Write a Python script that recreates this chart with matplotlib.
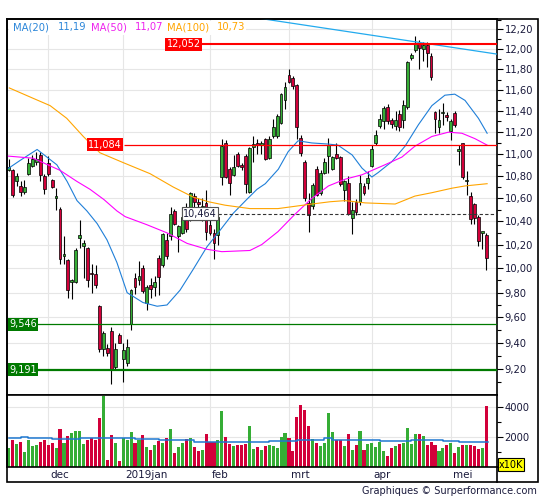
import matplotlib
matplotlib.use('Agg')
import matplotlib.pyplot as plt
import matplotlib.transforms as mtransforms
from matplotlib.ticker import FixedLocator, FuncFormatter, NullFormatter
from matplotlib.patches import Rectangle
from matplotlib.lines import Line2D

plt.rcParams['font.family'] = ['DejaVu Sans']

# daily candles, Nov 19 2018 .. May 15 2019 (trading days)
opens = [10.85, 10.85, 10.75, 10.71, 10.66, 10.82, 10.89, 10.93, 10.99, 10.80,
         10.92, 10.76, 10.60, 10.51, 10.10, 10.07, 9.89, 9.89, 10.26, 10.19,
         10.17, 9.96, 9.95, 9.69, 9.35, 9.36, 9.49, 9.21, 9.46, 9.27,
         9.24, 9.55, 9.92, 9.90, 10.00, 9.72, 9.86, 9.85, 10.09, 10.03,
         10.24, 10.27, 10.49, 10.27, 10.30, 10.43, 10.44, 10.62, 10.57, 10.44,
         10.56, 10.37, 10.30, 10.28, 10.79, 11.10, 10.86, 10.81, 11.00, 10.90,
         10.98, 10.66, 11.06, 11.10, 11.08, 11.14, 10.96, 11.16, 11.16, 11.29,
         11.50, 11.75, 11.72, 11.65, 11.15, 10.93, 10.56, 10.53, 10.86, 10.65,
         10.83, 10.98, 10.86, 11.00, 10.97, 10.67, 10.74, 10.43, 10.57, 10.57,
         10.71, 10.74, 10.89, 11.10, 11.26, 11.30, 11.44, 11.31, 11.26, 11.37,
         11.31, 11.44, 11.91, 11.99, 12.05, 12.00, 12.04, 11.93, 11.39, 11.25,
         11.38, 11.36, 11.21, 11.38, 11.03, 11.10, 10.75, 10.62, 10.55, 10.44,
         10.30, 10.28]
highs = [10.95, 10.86, 10.83, 10.75, 10.76, 10.96, 10.99, 11.02, 11.02, 10.82,
         10.98, 10.77, 10.69, 10.52, 10.27, 10.08, 9.91, 10.17, 10.41, 10.24,
         10.18, 10.04, 10.03, 9.70, 9.49, 9.39, 9.52, 9.40, 9.48, 9.40,
         9.43, 9.83, 9.96, 10.06, 10.03, 9.86, 9.92, 9.94, 10.11, 10.30,
         10.30, 10.52, 10.51, 10.37, 10.52, 10.56, 10.66, 10.65, 10.60, 10.60,
         10.67, 10.42, 10.33, 10.46, 11.14, 11.13, 10.88, 10.99, 11.02, 10.92,
         11.00, 11.06, 11.16, 11.14, 11.12, 11.15, 11.16, 11.32, 11.37, 11.57,
         11.68, 11.80, 11.74, 11.66, 11.17, 10.94, 10.65, 10.74, 10.89, 10.85,
         10.96, 11.15, 10.98, 11.10, 10.98, 10.76, 10.80, 10.57, 10.59, 10.81,
         10.74, 10.84, 11.08, 11.22, 11.37, 11.45, 11.47, 11.33, 11.40, 11.41,
         11.50, 11.88, 11.96, 12.13, 12.09, 12.07, 12.07, 11.96, 11.40, 11.42,
         11.48, 11.39, 11.32, 11.40, 11.08, 11.10, 10.84, 10.66, 10.56, 10.45,
         10.31, 10.30]
lows = [10.84, 10.61, 10.71, 10.62, 10.64, 10.81, 10.88, 10.90, 10.75, 10.64,
        10.80, 10.69, 10.50, 10.04, 10.04, 9.76, 9.75, 9.88, 10.17, 9.92,
        9.85, 9.80, 9.84, 9.33, 9.30, 9.30, 9.08, 9.19, 9.40, 9.10,
        9.22, 9.50, 9.79, 9.86, 9.80, 9.66, 9.76, 9.77, 9.78, 10.01,
        10.08, 10.24, 10.37, 10.14, 10.29, 10.31, 10.40, 10.52, 10.50, 10.40,
        10.24, 10.28, 10.08, 10.20, 10.72, 10.78, 10.63, 10.80, 10.88, 10.85,
        10.65, 10.65, 10.93, 11.00, 11.00, 10.94, 10.95, 11.15, 11.15, 11.28,
        11.42, 11.67, 11.61, 11.14, 10.98, 10.58, 10.31, 10.51, 10.62, 10.63,
        10.82, 10.83, 10.85, 10.95, 10.71, 10.58, 10.45, 10.29, 10.45, 10.54,
        10.63, 10.68, 10.88, 11.08, 11.24, 11.23, 11.28, 11.24, 11.22, 11.21,
        11.24, 11.42, 11.89, 11.97, 11.80, 11.88, 11.82, 11.70, 11.19, 11.19,
        11.27, 11.30, 11.13, 11.25, 10.90, 10.77, 10.63, 10.38, 10.38, 10.19,
        10.16, 9.99]
closes = [10.88, 10.63, 10.80, 10.66, 10.70, 10.92, 10.95, 10.95, 10.81, 10.68,
          10.82, 10.70, 10.62, 10.08, 10.12, 9.82, 9.90, 10.15, 10.28, 10.21,
          9.90, 9.95, 9.86, 9.35, 9.48, 9.32, 9.19, 9.35, 9.40, 9.34,
          9.37, 9.82, 9.85, 9.94, 9.81, 9.85, 9.83, 9.89, 9.93, 10.29,
          10.10, 10.46, 10.38, 10.36, 10.44, 10.33, 10.65, 10.57, 10.55, 10.53,
          10.31, 10.30, 10.21, 10.44, 11.07, 10.79, 10.74, 10.88, 10.89, 10.88,
          10.73, 11.05, 11.09, 11.08, 11.10, 10.95, 11.14, 11.25, 11.35, 11.56,
          11.63, 11.68, 11.64, 11.25, 11.01, 10.60, 10.45, 10.72, 10.63, 10.83,
          10.93, 11.08, 10.97, 10.96, 10.73, 10.75, 10.46, 10.50, 10.48, 10.74,
          10.65, 10.78, 11.04, 11.17, 11.32, 11.43, 11.30, 11.28, 11.31, 11.25,
          11.46, 11.87, 11.94, 12.06, 12.01, 12.04, 11.96, 11.73, 11.32, 11.31,
          11.38, 11.34, 11.30, 11.27, 11.04, 10.79, 10.76, 10.42, 10.43, 10.23,
          10.31, 10.09]
volumes = [1294, 1802, 1518, 1650, 1030, 1802, 1406, 1472, 1650, 1802,
           1472, 1626, 1294, 2528, 1604, 2066, 2244, 2396, 2396, 1538,
           1802, 1954, 1802, 3274, 4726, 482, 2132, 1582, 416, 1914,
           1802, 2330, 1604, 1802, 2132, 1340, 1142, 1472, 1736, 1582,
           1954, 2528, 942, 1340, 1604, 1868, 1954, 1340, 1076, 1142,
           2198, 1692, 1692, 1802, 3716, 2000, 1538, 1406, 1472, 1472,
           1538, 2726, 1208, 1340, 1142, 1406, 1472, 1406, 1274, 1980,
           2244, 1914, 1076, 3320, 4112, 3782, 2726, 1868, 1626, 1428,
           1582, 3584, 2330, 1780, 1780, 1406, 2198, 1142, 1472, 2396,
           1142, 1516, 1582, 1362, 1692, 1100, 750, 1250, 1400, 1550,
           1600, 2600, 1550, 2200, 2200, 2100, 1500, 1700, 1500, 1100,
           1300, 1500, 1600, 950, 1350, 1500, 1500, 1500, 1400, 1200,
           1300, 4100]

# moving averages (candle index, value)
ma20_x = [-0.4, 2.9, 7.2, 12.2, 14.8, 17.3, 19.8, 22.4, 24.9, 27.4, 30, 34, 37.6, 40.1,
          43.4, 46.7, 50.2, 53.5, 56.9, 60.3, 62.9, 65, 68.3, 70.8, 73.3, 76.8,
          80.9, 83.4, 87, 89.5, 92, 93.6, 97.1, 100.4, 103.8, 107.2, 110.5, 113,
          115.6, 119, 121.2]
ma20_y = [10.86, 10.94, 11.04, 10.90, 10.75, 10.58, 10.49, 10.38, 10.24, 10.05, 9.80,
          9.72, 9.69, 9.70, 9.82, 9.99, 10.18, 10.32, 10.47, 10.59, 10.68, 10.73,
          10.86, 11.02, 11.12, 11.10, 11.09, 11.08, 10.99, 10.87, 10.79, 10.83,
          10.93, 11.07, 11.27, 11.45, 11.55, 11.56, 11.50, 11.33, 11.19]
ma50_x = [-0.4, 6.2, 13, 17.3, 20.6, 24.1, 27.4, 29.5, 35, 40.1, 45.2, 50.2, 54, 61.1,
          64.1, 68.2, 72.5, 76.8, 81, 85.2, 89.5, 95.3, 99.6, 102.9, 107.2, 111.4,
          114.8, 118.1, 121.2]
ma50_y = [10.98, 10.96, 10.85, 10.75, 10.68, 10.59, 10.49, 10.44, 10.37, 10.30, 10.21,
          10.16, 10.14, 10.15, 10.20, 10.31, 10.46, 10.60, 10.71, 10.77, 10.81, 10.90,
          10.97, 11.07, 11.16, 11.20, 11.19, 11.14, 11.08]
ma100_x = [0.15, 6.2, 10.5, 14.7, 18.9, 23.1, 29, 35.8, 41.7, 46.8, 50.6, 54.8, 61.1,
           68.2, 72.5, 76.8, 81.4, 85.2, 90.3, 97.9, 102.9, 107.2, 112.3, 115.6, 121.2]
ma100_y = [11.62, 11.52, 11.45, 11.33, 11.16, 11.01, 10.92, 10.82, 10.70, 10.61, 10.57,
           10.54, 10.51, 10.51, 10.53, 10.55, 10.57, 10.58, 10.56, 10.55, 10.62, 10.65,
           10.69, 10.71, 10.73]
vol_ma_x = [0, 3, 5, 10, 11, 18, 23, 32, 38, 47, 49, 66, 73, 80, 82, 94, 102, 110, 114, 121.4]
vol_ma_y = [1914, 1980, 1930, 1914, 1870, 1914, 1958, 1870, 1800, 1690, 1692, 1714, 1826,
            1914, 1780, 1736, 1780, 1736, 1650, 1650]
trend_x = [64, 124]
trend_y = [12.31, 11.95]

month_idx = [10, 29, 51, 71, 92, 112]
month_lbl = ['dec', '2019jan', 'feb', 'mrt', 'apr', 'mei']

W, H = 545, 500
def fx(px):
    return px / W
def fy(py):
    return 1 - py / H

fig = plt.figure(figsize=(W / 100, H / 100), dpi=100)
ax = fig.add_axes([fx(7), fy(395), fx(497) - fx(7), fy(19) - fy(395)])
axv = fig.add_axes([fx(7), fy(467), fx(497) - fx(7), fy(395) - fy(467)], sharex=ax)

txt_col = '#1a1a3c'
green, red = '#35ad35', '#d2003a'
n = len(closes)
idx = list(range(n))
up = [c >= o for o, c in zip(opens, closes)]

# candles
ax.vlines(idx, lows, highs, color='black', lw=0.8, zorder=2)
bottoms = [min(o, c) for o, c in zip(opens, closes)]
heights = [max(abs(c - o), 0.012) for o, c in zip(opens, closes)]
ax.bar(idx, heights, bottom=bottoms, width=0.72,
       color=[green if u else red for u in up], edgecolor='black', lw=0.5, zorder=2.5)

ax.plot(ma20_x, ma20_y, color='#1f7fd8', lw=0.8, zorder=3)
ax.plot(ma50_x, ma50_y, color='#ff00ff', lw=0.8, zorder=3)
ax.plot(ma100_x, ma100_y, color='#ffa500', lw=0.8, zorder=3)
ax.plot(trend_x, trend_y, color='#22aaee', lw=0.9, zorder=3)

xmin, xmax = -0.43, 123.7
ax.set_xlim(xmin, xmax)
ax.set_yscale('log')
ax.set_ylim(9.0, 12.306)

maj = [round(9.2 + 0.2 * k, 2) for k in range(16)]
mnr = [round(9.1 + 0.2 * k, 2) for k in range(17)]
ax.yaxis.set_major_locator(FixedLocator(maj))
ax.yaxis.set_minor_locator(FixedLocator(mnr))
ax.yaxis.set_major_formatter(FuncFormatter(lambda v, p: f'{v:.2f}'.replace('.', ',')))
ax.yaxis.set_minor_formatter(NullFormatter())
ax.yaxis.tick_right()
ax.tick_params(axis='y', which='major', direction='out', length=4, width=0.8,
               pad=1.5, labelsize=7.2, labelcolor=txt_col)
ax.tick_params(axis='y', which='minor', direction='out', length=3, width=0.8)
ax.set_xticks(month_idx)
ax.tick_params(axis='x', length=0, labelbottom=False)
ax.grid(True, color='#e6e6e6', lw=0.8)
ax.set_axisbelow(True)

# levels
ax.hlines(12.052, 49, xmax, color='#ff0000', lw=1.5, zorder=4)
ax.text(44.4, 12.052, '12,052', ha='center', va='center', color='white', fontsize=7,
        bbox=dict(boxstyle='square,pad=0.15', fc='#ff0000', ec='none'), zorder=5)
ax.hlines(11.084, 29.2, xmax, color='#ff0000', lw=0.9, zorder=4)
ax.text(24.4, 11.084, '11,084', ha='center', va='center', color='white', fontsize=7,
        bbox=dict(boxstyle='square,pad=0.15', fc='#ff0000', ec='none'), zorder=5)
ax.hlines(10.464, 53, xmax, color='#333333', lw=0.8, linestyles=(0, (3, 2)), zorder=4)
ax.text(48.5, 10.464, '10,464', ha='center', va='center', color=txt_col, fontsize=7,
        bbox=dict(boxstyle='square,pad=0.15', fc='white', ec='#555555', lw=0.8), zorder=5)
ax.axhline(9.546, color='#007a00', lw=0.9, zorder=4)
ax.axhline(9.191, color='#007a00', lw=1.6, zorder=4)
blend = mtransforms.blended_transform_factory(ax.transAxes, ax.transData)
for lv, s in [(9.546, '9,546'), (9.191, '9,191')]:
    ax.text(0.004, lv, s, transform=blend, ha='left', va='center', color='white', fontsize=7,
            bbox=dict(boxstyle='square,pad=0.15', fc='#007a00', ec='none'), zorder=5)

# volume panel
axv.bar(idx, volumes, width=0.78, color=[green if u else red for u in up], lw=0, zorder=2)
axv.step(vol_ma_x, vol_ma_y, where='post', color='#1f78d1', lw=1.1, zorder=3)
axv.set_ylim(0, 4800)
axv.yaxis.set_major_locator(FixedLocator([2000, 4000]))
axv.yaxis.set_minor_locator(FixedLocator([1000, 3000]))
axv.yaxis.tick_right()
axv.tick_params(axis='y', which='major', direction='out', length=4, width=0.8,
                pad=1.5, labelsize=7.2, labelcolor=txt_col)
axv.tick_params(axis='y', which='minor', direction='out', length=3, width=0.8)
axv.tick_params(axis='x', length=0, labelbottom=False)
axv.grid(True, color='#e6e6e6', lw=0.8)
axv.set_axisbelow(True)

for a in (ax, axv):
    for sp in a.spines.values():
        sp.set_linewidth(1.2)

mt = mtransforms.blended_transform_factory(axv.transData, fig.transFigure)
for m, s in zip(month_idx, month_lbl):
    axv.text(m + 0.5, fy(474.5), s, transform=mt, ha='left', va='center',
             fontsize=7.5, color=txt_col, clip_on=False)

# outer frame
fig.add_artist(Rectangle((fx(7), fy(482)), fx(538) - fx(7), fy(19) - fy(482),
                         transform=fig.transFigure, fill=False, lw=1.2, ec='black'))
fig.add_artist(Line2D([fx(497), fx(497)], [fy(482), fy(467)], transform=fig.transFigure,
                      color='black', lw=1.2))

# legend strip
fig.add_artist(Rectangle((fx(8.5), fy(35)), fx(246) - fx(8.5), fy(20.5) - fy(35),
                         transform=fig.transFigure, fc='white', ec='none'))
for xp, s, c in [(13, 'MA(20)', '#2b86d9'), (58, '11,19', '#2b86d9'),
                 (91, 'MA(50)', '#ee22ee'), (135, '11,07', '#ee22ee'),
                 (167, 'MA(100)', '#ffa500'), (217, '10,73', '#ffa500')]:
    fig.text(fx(xp), fy(27), s, ha='left', va='center', fontsize=7.2, color=c)

fig.text(fx(511), fy(464.5), 'x10K', ha='center', va='center', fontsize=7, color='black',
         bbox=dict(boxstyle='square,pad=0.12', fc='#ffff00', ec='black', lw=0.8))
fig.text(fx(537), fy(491.5), 'Graphiques © Surperformance.com', ha='right', va='center',
         fontsize=7, color=txt_col)

fig.savefig('out.png', dpi=100)
